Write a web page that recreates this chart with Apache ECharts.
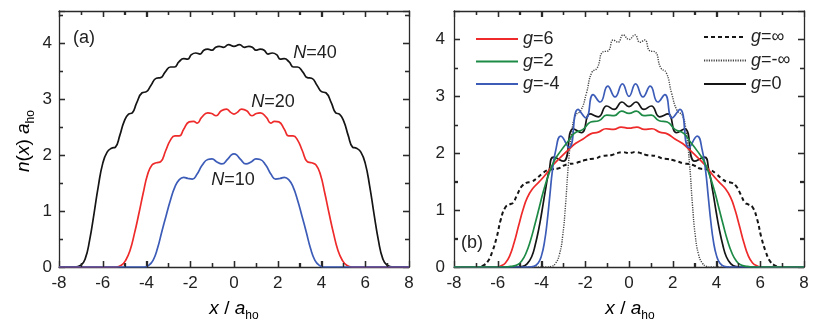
<!DOCTYPE html>
<html>
<head>
<meta charset="utf-8">
<script src="https://cdn.jsdelivr.net/npm/echarts@6/dist/echarts.min.js"></script>
</head>
<body style="margin:0">
<div id="chart" style="width:830px;height:327px"></div>
<script>
// panel (a): density profiles for N = 40, 20, 10  [x, n(x) a_ho]
const n40 = [
  [-8,0],[-7.3,0],[-7.0,0.03],[-6.8,0.15],[-6.6,0.48],[-6.4,0.95],[-6.2,1.45],[-6.0,1.85],[-5.8,2.05],[-5.6,2.12],
  [-5.42,2.14],[-5.22,2.35],[-5.02,2.6],[-4.82,2.73],[-4.65,2.75],[-4.45,2.93],[-4.2,3.11],[-4.0,3.13],[-3.8,3.24],
  [-3.55,3.37],[-3.35,3.38],[-3.15,3.48],[-2.9,3.57],[-2.72,3.57],[-2.52,3.66],[-2.3,3.72],[-2.12,3.71],[-1.95,3.79],
  [-1.75,3.82],[-1.55,3.8],[-1.38,3.87],[-1.2,3.89],[-1.0,3.87],[-0.85,3.92],[-0.68,3.94],[-0.48,3.92],[-0.25,3.97],
  [0,3.94],
  [0.25,3.97],[0.48,3.92],[0.68,3.94],[0.85,3.92],[1.0,3.87],[1.2,3.89],[1.38,3.87],[1.55,3.8],[1.75,3.82],
  [1.95,3.79],[2.12,3.71],[2.3,3.72],[2.52,3.66],[2.72,3.57],[2.9,3.57],[3.15,3.48],[3.35,3.38],[3.55,3.37],
  [3.8,3.24],[4.0,3.13],[4.2,3.11],[4.45,2.93],[4.65,2.75],[4.82,2.73],[5.02,2.6],[5.22,2.35],[5.42,2.14],
  [5.6,2.12],[5.8,2.05],[6.0,1.85],[6.2,1.45],[6.4,0.95],[6.6,0.48],[6.8,0.15],[7.0,0.03],[7.3,0],[8,0]
];
const n20 = [
  [-8,0],[-5.4,0],[-5.15,0.03],[-4.95,0.12],[-4.75,0.3],[-4.55,0.6],[-4.35,0.95],[-4.15,1.32],[-3.95,1.65],
  [-3.75,1.82],[-3.55,1.86],[-3.35,1.88],[-3.12,2.08],[-2.9,2.27],[-2.7,2.34],[-2.5,2.34],[-2.3,2.46],[-2.05,2.59],
  [-1.85,2.6],[-1.68,2.57],[-1.48,2.67],[-1.2,2.75],[-1.02,2.74],[-0.82,2.7],[-0.58,2.79],[-0.35,2.82],[-0.15,2.76],
  [0,2.73],
  [0.15,2.76],[0.35,2.82],[0.58,2.79],[0.82,2.7],[1.02,2.74],[1.2,2.75],[1.48,2.67],[1.68,2.57],[1.85,2.6],
  [2.05,2.59],[2.3,2.46],[2.5,2.34],[2.7,2.34],[2.9,2.27],[3.12,2.08],[3.35,1.88],[3.55,1.86],[3.75,1.82],
  [3.95,1.65],[4.15,1.32],[4.35,0.95],[4.55,0.6],[4.75,0.3],[4.95,0.12],[5.15,0.03],[5.4,0],[8,0]
];
const n10 = [
  [-8,0],[-4.1,0],[-3.9,0.03],[-3.7,0.12],[-3.5,0.33],[-3.3,0.63],[-3.1,0.92],[-2.9,1.2],[-2.7,1.43],[-2.5,1.56],
  [-2.3,1.6],[-2.1,1.58],[-1.9,1.57],[-1.7,1.65],[-1.45,1.82],[-1.2,1.92],[-1.0,1.93],[-0.8,1.88],[-0.55,1.84],
  [-0.3,1.92],[-0.12,2.0],[0,2.02],
  [0.12,2.0],[0.3,1.92],[0.55,1.84],[0.8,1.88],[1.0,1.93],[1.2,1.92],[1.45,1.82],[1.7,1.65],[1.9,1.57],[2.1,1.58],
  [2.3,1.6],[2.5,1.56],[2.7,1.43],[2.9,1.2],[3.1,0.92],[3.3,0.63],[3.5,0.33],[3.7,0.12],[3.9,0.03],[4.1,0],[8,0]
];

// panel (b): profiles for different g
const gInf = [
  [-8,0],[-6.9,0],[-6.65,0.03],[-6.45,0.1],[-6.25,0.27],[-6.05,0.52],[-5.85,0.85],[-5.65,1.05],[-5.45,1.1],
  [-5.3,1.13],[-5.1,1.28],[-4.9,1.42],[-4.7,1.48],[-4.45,1.5],[-4.25,1.55],[-4.0,1.63],[-3.75,1.7],[-3.5,1.72],
  [-3.25,1.73],[-3.0,1.78],[-2.75,1.81],[-2.5,1.82],[-2.25,1.85],[-2.0,1.88],[-1.75,1.9],[-1.5,1.91],[-1.25,1.95],
  [-1.0,1.96],[-0.78,1.97],[-0.55,2.0],[-0.3,2.02],[-0.12,2.01],[0,2.0],
  [0.12,2.01],[0.3,2.02],[0.55,2.0],[0.78,1.97],[1.0,1.96],[1.25,1.95],[1.5,1.91],[1.75,1.9],[2.0,1.88],
  [2.25,1.85],[2.5,1.82],[2.75,1.81],[3.0,1.78],[3.25,1.73],[3.5,1.72],[3.75,1.7],[4.0,1.63],[4.25,1.55],
  [4.45,1.5],[4.7,1.48],[4.9,1.42],[5.1,1.28],[5.3,1.13],[5.45,1.1],[5.65,1.05],[5.85,0.85],[6.05,0.52],
  [6.25,0.27],[6.45,0.1],[6.65,0.03],[6.9,0],[8,0]
];
const gNegInf = [
  [-8,0],[-3.75,0],[-3.55,0.01],[-3.35,0.07],[-3.18,0.22],[-3.03,0.55],[-2.9,1.1],[-2.77,1.8],[-2.62,2.35],
  [-2.45,2.66],[-2.2,2.75],[-1.95,3.05],[-1.7,3.42],[-1.45,3.5],[-1.2,3.78],[-0.95,3.8],[-0.72,3.99],[-0.5,3.95],
  [-0.27,4.08],[0,4.0],
  [0.27,4.08],[0.5,3.95],[0.72,3.99],[0.95,3.8],[1.2,3.78],[1.45,3.5],[1.7,3.42],[1.95,3.05],[2.2,2.75],
  [2.45,2.66],[2.62,2.35],[2.77,1.8],[2.9,1.1],[3.03,0.55],[3.18,0.22],[3.35,0.07],[3.55,0.01],[3.75,0],[8,0]
];
const g0 = [
  [-8,0],[-5.1,0],[-4.85,0.01],[-4.65,0.06],[-4.45,0.18],[-4.28,0.4],[-4.12,0.68],[-3.98,0.98],[-3.82,1.35],
  [-3.65,1.7],[-3.45,1.93],[-3.0,1.86],[-2.55,2.43],[-2.17,2.36],[-1.78,2.69],[-1.4,2.64],[-1.02,2.83],
  [-0.68,2.77],[-0.32,2.9],[0,2.82],
  [0.32,2.9],[0.68,2.77],[1.02,2.83],[1.4,2.64],[1.78,2.69],[2.17,2.36],[2.55,2.43],[3.0,1.86],[3.45,1.93],
  [3.65,1.7],[3.82,1.35],[3.98,0.98],[4.12,0.68],[4.28,0.4],[4.45,0.18],[4.65,0.06],[4.85,0.01],[5.1,0],[8,0]
];
const g6 = [
  [-8,0],[-6.05,0],[-5.85,0.02],[-5.65,0.07],[-5.45,0.2],[-5.25,0.43],[-5.05,0.72],[-4.85,1.0],[-4.65,1.22],
  [-4.4,1.38],[-4.1,1.5],[-3.8,1.63],[-3.5,1.78],[-3.15,1.92],[-2.8,2.05],[-2.45,2.17],[-2.1,2.25],[-1.75,2.34],
  [-1.4,2.37],[-1.05,2.43],[-0.7,2.42],[-0.36,2.46],[0,2.44],
  [0.36,2.46],[0.7,2.42],[1.05,2.43],[1.4,2.37],[1.75,2.34],[2.1,2.25],[2.45,2.17],[2.8,2.05],[3.15,1.92],
  [3.5,1.78],[3.8,1.63],[4.1,1.5],[4.4,1.38],[4.65,1.22],[4.85,1.0],[5.05,0.72],[5.25,0.43],[5.45,0.2],
  [5.65,0.07],[5.85,0.02],[6.05,0],[8,0]
];
const g2 = [
  [-8,0],[-5.7,0],[-5.4,0.01],[-5.1,0.04],[-4.9,0.11],[-4.7,0.25],[-4.5,0.47],[-4.3,0.75],[-4.1,1.05],
  [-3.9,1.35],[-3.65,1.65],[-3.4,1.88],[-3.1,2.05],[-2.8,2.2],[-2.5,2.35],[-2.1,2.42],[-1.75,2.55],[-1.38,2.57],
  [-1.02,2.67],[-0.68,2.66],[-0.34,2.74],[0,2.7],
  [0.34,2.74],[0.68,2.66],[1.02,2.67],[1.38,2.57],[1.75,2.55],[2.1,2.42],[2.5,2.35],[2.8,2.2],[3.1,2.05],
  [3.4,1.88],[3.65,1.65],[3.9,1.35],[4.1,1.05],[4.3,0.75],[4.5,0.47],[4.7,0.25],[4.9,0.11],[5.1,0.04],
  [5.4,0.01],[5.7,0],[8,0]
];
const gm4 = [
  [-8,0],[-4.6,0],[-4.35,0.01],[-4.15,0.07],[-4.0,0.2],[-3.86,0.45],[-3.74,0.8],[-3.62,1.25],[-3.5,1.7],
  [-3.35,2.05],[-3.12,2.3],[-2.74,2.1],[-2.33,2.77],[-1.97,2.62],[-1.64,3.03],[-1.32,2.9],[-0.97,3.18],
  [-0.64,2.99],[-0.3,3.22],[0,3.0],
  [0.3,3.22],[0.64,2.99],[0.97,3.18],[1.32,2.9],[1.64,3.03],[1.97,2.62],[2.33,2.77],[2.74,2.1],[3.12,2.3],
  [3.35,2.05],[3.5,1.7],[3.62,1.25],[3.74,0.8],[3.86,0.45],[4.0,0.2],[4.15,0.07],[4.35,0.01],[4.6,0],[8,0]
];

const xTicks = { min: -8, max: 8, interval: 2 };
const yTicks = { min: 0, interval: 1 };
const yMaxA = 4.57;
const yMaxB = 4.5;

const FONT = 'Liberation Sans, Arial, sans-serif';
const AXIS_COLOR = '#2a2a2a';
const TEXT_COLOR = '#222';

const RED = '#ee2a2a';
const GREEN = '#1d8a45';
const BLUE = '#3c5cb8';
const BLACK = '#151515';

const W = 830, H = 327;
const gridA = { left: 59, right: 421, top: 11, bottom: 60 };
const gridB = { left: 454, right: 26, top: 11, bottom: 60 };

const rich = {
  i: { fontStyle: 'italic', fontSize: 19, fontFamily: FONT, color: TEXT_COLOR, lineHeight: 26 },
  n: { fontSize: 19, fontFamily: FONT, color: TEXT_COLOR, lineHeight: 26 },
  s: { fontSize: 12, fontFamily: FONT, color: TEXT_COLOR, lineHeight: 12, verticalAlign: 'bottom' }
};
const labRich = {
  i: { fontStyle: 'italic', fontSize: 18, fontFamily: FONT, fill: TEXT_COLOR },
  n: { fontSize: 18, fontFamily: FONT, fill: TEXT_COLOR }
};

function axisCommon(grid) {
  return {
    type: 'value', gridIndex: grid,
    axisLine: { show: true, onZero: false, lineStyle: { color: AXIS_COLOR, width: 1.3 } },
    axisTick: { show: true, inside: true, length: 6, lineStyle: { color: AXIS_COLOR, width: 1.3 } },
    minorTick: { show: true, splitNumber: 2, length: 4, lineStyle: { color: AXIS_COLOR, width: 1.3 } },
    splitLine: { show: false }
  };
}
function xAxis(grid, position) {
  return Object.assign(axisCommon(grid), {
    min: xTicks.min, max: xTicks.max, interval: xTicks.interval, position: position,
    axisLabel: position === 'bottom'
      ? { show: true, margin: 8, fontSize: 17, fontFamily: FONT, color: TEXT_COLOR }
      : { show: false }
  });
}
function yAxis(grid, position, max, margin) {
  return Object.assign(axisCommon(grid), {
    min: yTicks.min, max: max, interval: yTicks.interval, position: position,
    axisLabel: position === 'left'
      ? { show: true, margin: margin, fontSize: 17, fontFamily: FONT, color: TEXT_COLOR, showMaxLabel: false }
      : { show: false }
  });
}

function line(name, data, color, xi, yi, type, width) {
  return {
    name: name, type: 'line', data: data, xAxisIndex: xi, yAxisIndex: yi,
    symbol: 'none', smooth: 0.5,
    lineStyle: { color: color, width: width || 1.7, type: type || 'solid' },
    itemStyle: { color: color }
  };
}

// inward frame ticks, placed from the grid box (same box the axes use)
function frameTicks(g, yMax) {
  const els = [];
  const l = g.left, r = W - g.right, t = g.top, b = H - g.bottom;
  const px = (v) => l + (v - xTicks.min) / (xTicks.max - xTicks.min) * (r - l);
  const py = (v) => b - (v - yTicks.min) / (yMax - yTicks.min) * (b - t);
  const seg = (x1, y1, x2, y2) => ({
    type: 'line', z: 100,
    shape: { x1: x1, y1: y1, x2: x2, y2: y2 },
    style: { stroke: AXIS_COLOR, lineWidth: 1.3 }
  });
  for (let v = xTicks.min + 1; v < xTicks.max; v += 1) {
    const len = Math.abs(v % xTicks.interval) === 0 ? 6 : 4;
    const x = Math.round(px(v)) + 0.5;
    els.push(seg(x, b, x, b - len), seg(x, t, x, t + len));
  }
  for (let v = yTicks.min + 0.5; v < yMax; v += 0.5) {
    const len = v % yTicks.interval === 0 ? 6 : 4;
    const y = Math.round(py(v)) + 0.5;
    els.push(seg(l, y, l + len, y), seg(r, y, r - len, y));
  }
  return els;
}

const texts = [
  { type: 'text', x: 234, y: 309, style: { text: '{i|x}{n| / }{i|a}{s|ho}', rich: rich, align: 'center', verticalAlign: 'middle' } },
  { type: 'text', x: 630, y: 309, style: { text: '{i|x}{n| / }{i|a}{s|ho}', rich: rich, align: 'center', verticalAlign: 'middle' } },
  { type: 'text', x: 24, y: 141, rotation: Math.PI / 2, style: { text: '{i|n}{n|(}{i|x}{n|) }{i|a}{s|ho}', rich: rich, align: 'center', verticalAlign: 'middle' } },
  { type: 'text', x: 84, y: 38, style: { text: '(a)', fontSize: 18, fontFamily: FONT, fill: TEXT_COLOR, align: 'center', verticalAlign: 'middle' } },
  { type: 'text', x: 472, y: 243, style: { text: '(b)', fontSize: 18, fontFamily: FONT, fill: TEXT_COLOR, align: 'center', verticalAlign: 'middle' } },
  { type: 'text', x: 315, y: 53, style: { text: '{i|N}{n|=40}', rich: labRich, align: 'center', verticalAlign: 'middle' } },
  { type: 'text', x: 273, y: 102, style: { text: '{i|N}{n|=20}', rich: labRich, align: 'center', verticalAlign: 'middle' } },
  { type: 'text', x: 233, y: 180, style: { text: '{i|N}{n|=10}', rich: labRich, align: 'center', verticalAlign: 'middle' } }
];

const legendText = {
  fontSize: 18, fontFamily: FONT, color: TEXT_COLOR,
  rich: { i: { fontStyle: 'italic', fontSize: 18, fontFamily: FONT, color: TEXT_COLOR } }
};
const legendFmt = (name) => '{i|g}' + name.slice(1);
const legendBase = {
  orient: 'vertical', itemWidth: 42, itemHeight: 14, selectedMode: false,
  itemStyle: { opacity: 0 }, formatter: legendFmt, textStyle: legendText
};

const chart = echarts.init(document.getElementById('chart'));
chart.setOption({
  animation: false,
  grid: [gridA, gridB],
  xAxis: [xAxis(0, 'bottom'), xAxis(0, 'top'), xAxis(1, 'bottom'), xAxis(1, 'top')],
  yAxis: [yAxis(0, 'left', yMaxA, 7), yAxis(0, 'right', yMaxA, 7), yAxis(1, 'left', yMaxB, 9), yAxis(1, 'right', yMaxB, 9)],
  legend: [
    Object.assign({}, legendBase, { data: ['g=6', 'g=2', 'g=-4'], left: 470, top: 25, itemGap: 4.5 }),
    Object.assign({}, legendBase, { data: ['g=\u221e', 'g=-\u221e', 'g=0'], left: 698, top: 23, itemGap: 5.5 })
  ],
  series: [
    line('N=40', n40, BLACK, 0, 0),
    line('N=20', n20, RED, 0, 0),
    line('N=10', n10, BLUE, 0, 0),
    line('g=\u221e', gInf, BLACK, 2, 2, [4, 3], 2),
    line('g=-\u221e', gNegInf, '#444', 2, 2, [1.2, 1.2], 1.4),
    line('g=0', g0, BLACK, 2, 2),
    line('g=6', g6, RED, 2, 2),
    line('g=-4', gm4, BLUE, 2, 2),
    line('g=2', g2, GREEN, 2, 2)
  ],
  graphic: texts.concat(frameTicks(gridA, yMaxA), frameTicks(gridB, yMaxB))
});
</script>
</body>
</html>
